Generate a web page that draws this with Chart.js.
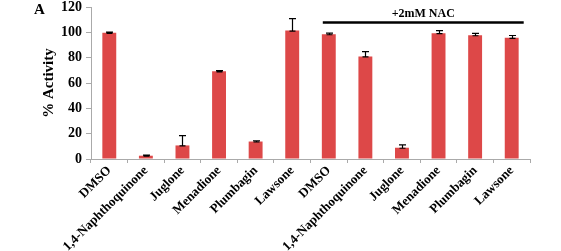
<!DOCTYPE html>
<html><head><meta charset="utf-8">
<script src="https://cdn.jsdelivr.net/npm/chart.js@4"></script>
<style>html,body{margin:0;padding:0;background:#fff}#w{width:561px;height:251px;position:relative}</style>
</head><body><div id="w"><canvas id="c"></canvas></div>
<script>
const categories = ["DMSO","1,4-Naphthoquinone","Juglone","Menadione","Plumbagin","Lawsone","DMSO","1,4-Naphthoquinone","Juglone","Menadione","Plumbagin","Lawsone"];
const activity = [99.6, 2.6, 10.7, 69.2, 13.8, 101.4, 98.5, 81, 8.9, 99.3, 97.7, 95.7];
const errors = [0.5, 0.5, 7.8, 0.6, 0.6, 9.4, 0.8, 3.8, 2.2, 2.0, 1.4, 1.8];
const yTicks = [0, 20, 40, 60, 80, 100, 120];
const nacLabel = "+2mM NAC";
const panelLabel = "A";
const nacRange = [6, 11];
const nacLevel = 107.7;

const serif = "'Liberation Serif','Times New Roman',serif";

const extras = {
  id: 'extras',
  afterDatasetsDraw(chart) {
    const ctx = chart.ctx, y = chart.scales.y, x = chart.scales.x;
    const meta = chart.getDatasetMeta(0);
    ctx.save();
    ctx.strokeStyle = '#000'; ctx.lineWidth = 1.2;
    meta.data.forEach((bar, i) => {
      const px = Math.round(bar.x) + 0.5;
      const yt = y.getPixelForValue(activity[i] + errors[i]);
      const yb = y.getPixelForValue(activity[i]);
      ctx.beginPath();
      ctx.moveTo(px, yt); ctx.lineTo(px, yb + 1);
      ctx.moveTo(px - 3.5, yt); ctx.lineTo(px + 3.5, yt);
      ctx.moveTo(px - 3, yb + 0.5); ctx.lineTo(px + 3, yb + 0.5);
      ctx.stroke();
    });
    // NAC bracket line
    const x0 = x.getPixelForValue(nacRange[0]) - 6;
    const x1 = x.getPixelForValue(nacRange[1]) + 12;
    const ly = y.getPixelForValue(nacLevel);
    ctx.lineWidth = 2.5;
    ctx.beginPath(); ctx.moveTo(x0, ly); ctx.lineTo(x1, ly); ctx.stroke();
    ctx.fillStyle = '#000';
    ctx.font = "bold 12px " + serif;
    ctx.textAlign = 'center'; ctx.textBaseline = 'alphabetic';
    ctx.fillText(nacLabel, (x0 + x1) / 2, ly - 6);
    ctx.font = "bold 15px " + serif;
    ctx.textAlign = 'left';
    ctx.fillText(panelLabel, 34, 14);
    ctx.restore();
  }
};

new Chart(document.getElementById('c'), {
  type: 'bar',
  data: {
    labels: categories,
    datasets: [{
      data: activity,
      backgroundColor: '#DD4848',
      borderWidth: 0,
      barPercentage: 0.38,
      categoryPercentage: 1
    }]
  },
  options: {
    responsive: true, maintainAspectRatio: false, animation: false,
    layout: { padding: { left: 40, top: 0, right: 31, bottom: 0 } },
    plugins: { legend: { display: false }, tooltip: { enabled: false } },
    scales: {
      x: {
        grid: { offset: true, drawOnChartArea: false, tickLength: 4, color: '#aaa' },
        border: { color: '#aaa' },
        ticks: { color: '#000', font: { family: serif, weight: 'bold', size: 13 }, maxRotation: 45, minRotation: 45, autoSkip: false, padding: 0 },
        afterFit(s) { s.height = 92; }
      },
      y: {
        min: 0, max: 120,
        afterBuildTicks(s) { s.ticks = yTicks.map(v => ({ value: v })); },
        grid: { drawOnChartArea: false, tickLength: 5, color: '#aaa' },
        border: { color: '#aaa' },
        ticks: { color: '#000', font: { family: serif, weight: 'bold', size: 14 }, padding: 4 },
        title: { display: true, text: '% Activity', color: '#000', font: { family: serif, weight: 'bold', size: 15 }, padding: 0 },
        afterFit(s) { s.width = 51; s.paddingTop = 7; }
      }
    }
  },
  plugins: [extras]
});
</script>
</body></html>
